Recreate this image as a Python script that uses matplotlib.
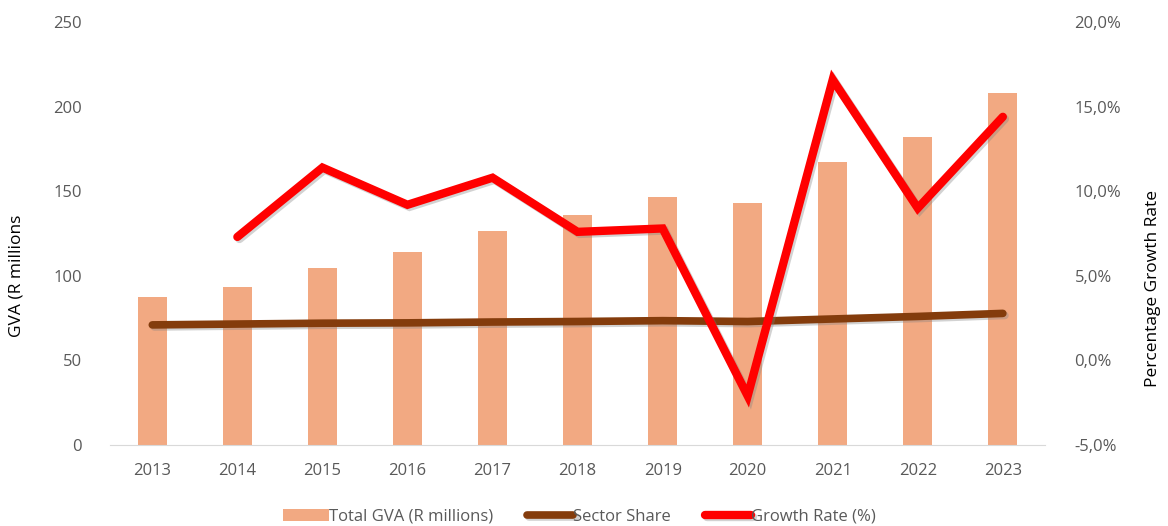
import matplotlib.pyplot as plt
import matplotlib.patheffects as pe
from matplotlib.ticker import FuncFormatter, MultipleLocator
import numpy as np

years = ['2013', '2014', '2015', '2016', '2017', '2018', '2019', '2020', '2021', '2022', '2023']
total_gva = [87.5, 93.3, 104.5, 114, 126.5, 136, 146.8, 143, 167, 182, 208]
sector_share = [2.1, 2.15, 2.2, 2.22, 2.27, 2.3, 2.35, 2.3, 2.45, 2.6, 2.78]
growth_rate = [np.nan, 7.3, 11.4, 9.2, 10.8, 7.6, 7.8, -2.1, 16.6, 9.0, 14.4]

bar_color = '#F2A982'
share_color = '#843C0C'
growth_color = '#FF0000'
text_color = '#595959'

plt.rcParams['font.family'] = ['Open Sans', 'DejaVu Sans']

fig = plt.figure(figsize=(11.68, 5.26), dpi=100)
ax = fig.add_axes([0.094, 0.154, 0.801, 0.804])
ax2 = ax.twinx()

x = np.arange(len(years))
bars = ax.bar(x, total_gva, width=0.34, color=bar_color, label='Total GVA (R millions)', zorder=2)

# lines get a soft drop shadow
shadow = [pe.SimpleLineShadow(offset=(1.5, -1.5), shadow_color='gray', alpha=0.35), pe.Normal()]
l1, = ax2.plot(x, sector_share, color=share_color, lw=5.5, solid_capstyle='round',
               label='Sector Share', path_effects=shadow, zorder=3)
l2, = ax2.plot(x, growth_rate, color=growth_color, lw=6, solid_capstyle='round',
               solid_joinstyle='miter', label='Growth Rate (%)', path_effects=shadow, zorder=4)

ax.set_xlim(-0.5, len(years) - 0.5)
ax.set_ylim(0, 250)
ax2.set_ylim(-5, 20)
ax.yaxis.set_major_locator(MultipleLocator(50))
ax2.yaxis.set_major_locator(MultipleLocator(5))
ax2.yaxis.set_major_formatter(FuncFormatter(lambda v, p: f'{v:.1f}%'.replace('.', ',')))

ax.set_xticks(x)
ax.set_xticklabels(years)

for a in (ax, ax2):
    for s in a.spines.values():
        s.set_visible(False)
    a.tick_params(length=0, colors=text_color, labelsize=12)
ax.spines['bottom'].set_visible(True)
ax.spines['bottom'].set_color('#D9D9D9')
ax.tick_params(axis='y', pad=20)
ax.tick_params(axis='x', pad=13)
ax2.tick_params(axis='y', pad=21)

ax.set_ylabel('GVA (R millions', color='black', fontsize=12.5)
ax.yaxis.set_label_coords(-0.091, 0.40)
ax2.set_ylabel('Percentage Growth Rate', color='black', fontsize=12.5)
ax2.yaxis.set_label_coords(1.107, 0.37)

ax2.set_zorder(ax.get_zorder() + 1)
ax2.patch.set_visible(False)

fig.legend([bars, l1, l2], ['Total GVA (R millions)', 'Sector Share', 'Growth Rate (%)'],
           loc='lower center', bbox_to_anchor=(0.496, -0.026), ncol=3, frameon=False,
           fontsize=12, labelcolor=text_color, handlelength=2.8, handletextpad=0.0,
           columnspacing=2.0)

plt.savefig('out.png', dpi=100)
plt.close()
